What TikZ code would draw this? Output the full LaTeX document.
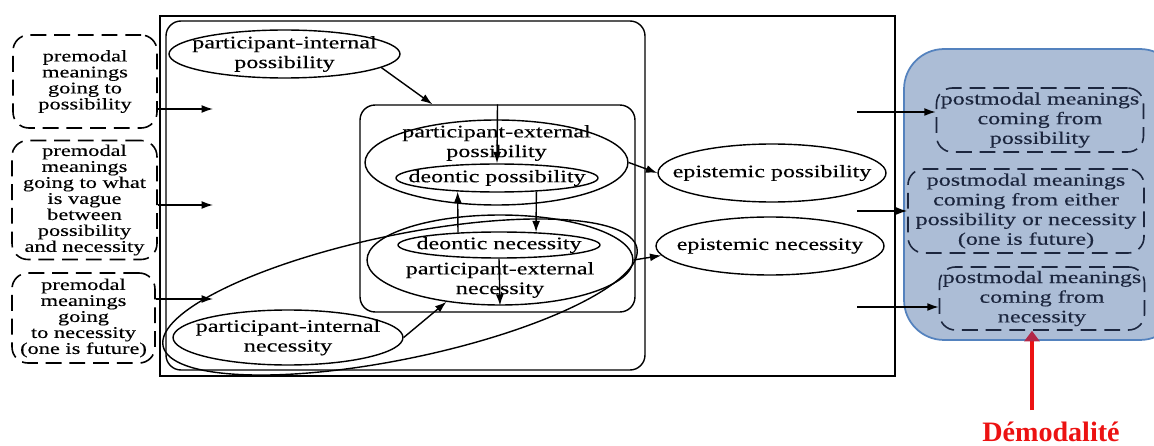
\documentclass[tikz,border=0pt]{standalone}
\usepackage{fontspec}
\setmainfont{Liberation Serif}[FakeStretch=1.37, FakeBold=0.3]
\newfontfamily\demofont{Liberation Serif}
\usetikzlibrary{shapes.geometric,arrows.meta}
\definecolor{demofill}{RGB}{172,189,214}
\definecolor{demoedge}{RGB}{84,130,190}
\definecolor{navy}{RGB}{28,38,62}
\definecolor{demored}{RGB}{236,18,18}
\definecolor{demohead}{RGB}{178,40,72}

\begin{document}
\begin{tikzpicture}[x=0.02cm, y=-0.02cm, line width=0.8pt, >={Latex[length=6.5pt,width=4.5pt]},
		txt/.style={align=center, font=\fontsize{10}{11.2}\selectfont},
		small/.style={align=center, font=\fontsize{9.3}{9.1}\selectfont},
		oval/.style={draw, ellipse, inner sep=0pt},
		dashbox/.style={draw, rectangle, rounded corners=9pt, dash pattern=on 9pt off 4.5pt, line width=0.9pt, inner sep=0pt},
		demoarrow/.style={demored, line width=2.8pt, -{Triangle[length=6pt,width=8.5pt,color=demohead]}}]
					\useasboundingbox (0,0) rectangle (1154,446);

					\node[draw=demoedge, fill=demofill, line width=1pt, rounded corners=0.8cm, minimum width=5.52cm, minimum height=5.82cm] (demo) at (1042,194.5) {};

					\draw (160,16) rectangle (895,376);
					\draw[rounded corners=0.3cm] (166,21) rectangle (645,370);

					\node[dashbox, small, minimum width=2.88cm, minimum height=1.86cm] (pre0) at (85,81.5) {premodal\\meanings\\going to\\possibility};
					\node[dashbox, small, minimum width=2.9cm, minimum height=2.38cm] (pre1) at (84.5,200) {premodal\\meanings\\going to what\\is vague\\between\\possibility\\and necessity};
					\node[dashbox, small, minimum width=2.86cm, minimum height=1.8cm] (pre2) at (83.5,318) {premodal\\meanings\\going\\to necessity\\(one is future)};

					\coordinate (in0) at (213,109);
					\coordinate (in1) at (213,205);
					\coordinate (in2) at (213,299);

					\node[oval, minimum width=4.62cm, minimum height=0.96cm, label={[txt]center:participant-internal\\possibility}] (intpos) at (284.5,54) {};
					\node[oval, minimum width=4.6cm, minimum height=1.1cm, label={[txt]center:participant-internal\\necessity}] (intnec) at (288,337.5) {};

					\node[draw, rounded corners=0.3cm, minimum width=5.5cm, minimum height=4.14cm] (core) at (497.5,208.5) {};
					\node[oval, minimum width=5.26cm, minimum height=1.7cm, label={[txt, yshift=0.39cm]center:participant-external\\possibility}] (extpos) at (496.5,162.5) {};
					\node[oval, minimum width=4.04cm, minimum height=0.56cm, label={[txt]center:deontic possibility}] (deopos) at (497,178) {};
					\node[oval, minimum width=5.32cm, minimum height=1.8cm, label={[txt, yshift=-0.4cm]center:participant-external\\necessity}] (extnec) at (500,260) {};
					\node[oval, minimum width=4.04cm, minimum height=0.52cm, label={[txt]center:deontic necessity}] (deonec) at (499,245) {};

					\node[oval, rotate=11.7, minimum width=9.68cm, minimum height=2.48cm] (necloop) at (400,297) {};

					\node[oval, minimum width=4.56cm, minimum height=1.16cm, label={[txt]center:epistemic possibility}] (epipos) at (772,173) {};
					\node[oval, minimum width=4.56cm, minimum height=1.16cm, label={[txt]center:epistemic necessity}] (epinec) at (770,246) {};

					\node[dashbox, txt, navy, minimum width=4.14cm, minimum height=1.28cm] (post0) at (1040,120) {postmodal meanings\\coming from\\possibility};
					\node[dashbox, txt, navy, minimum width=4.72cm, minimum height=1.68cm] (post1) at (1026,211) {postmodal meanings\\coming from either\\possibility or necessity\\(one is future)};
					\node[dashbox, txt, navy, minimum width=4.1cm, minimum height=1.26cm] (post2) at (1042,298.5) {postmodal meanings\\coming from\\necessity};

					\coordinate (out0) at (857,112);
					\coordinate (out1) at (857,211);
					\coordinate (out2) at (857,307);

					\node[anchor=base, text=demored, font=\demofont\bfseries\fontsize{16}{16}\selectfont] (demotext) at (1051,441) {Démodalité};
					\coordinate (demotail) at (1032,410);


					\draw[->] (pre0.east |- in0) to node {} (in0);
					\draw[->] (pre1.east |- in1) to node {} (in1);
					\draw[->] (pre2.east |- in2) to node {} (in2);

					\draw[->] (intpos.-8) to node {} (core.122);
					\draw[->] (intnec.east) to node {} (extnec.-142);

					\draw[->] (core.north) to node {} (deopos.north);
					\draw[->] (deonec.163) to node {} (deopos.-161);
					\draw[->] (deopos.-19) to node {} (deonec.19);
					\draw[->] (deonec.south) to node {} (extnec.south);

					\draw[->] (extpos.east) to node {} (epipos.west);
					\draw[->] (extnec.east) to node {} (epinec.185);

					\draw[->] (out0) to node {} (out0 -| post0.west);
					\draw[->] (out1) to node {} (out1 -| post1.west);
					\draw[->] (out2) to node {} (out2 -| post2.west);

					\draw[demoarrow] (demotail) to node {} (demotail |- post2.south);
				\end{tikzpicture}
\end{document}
